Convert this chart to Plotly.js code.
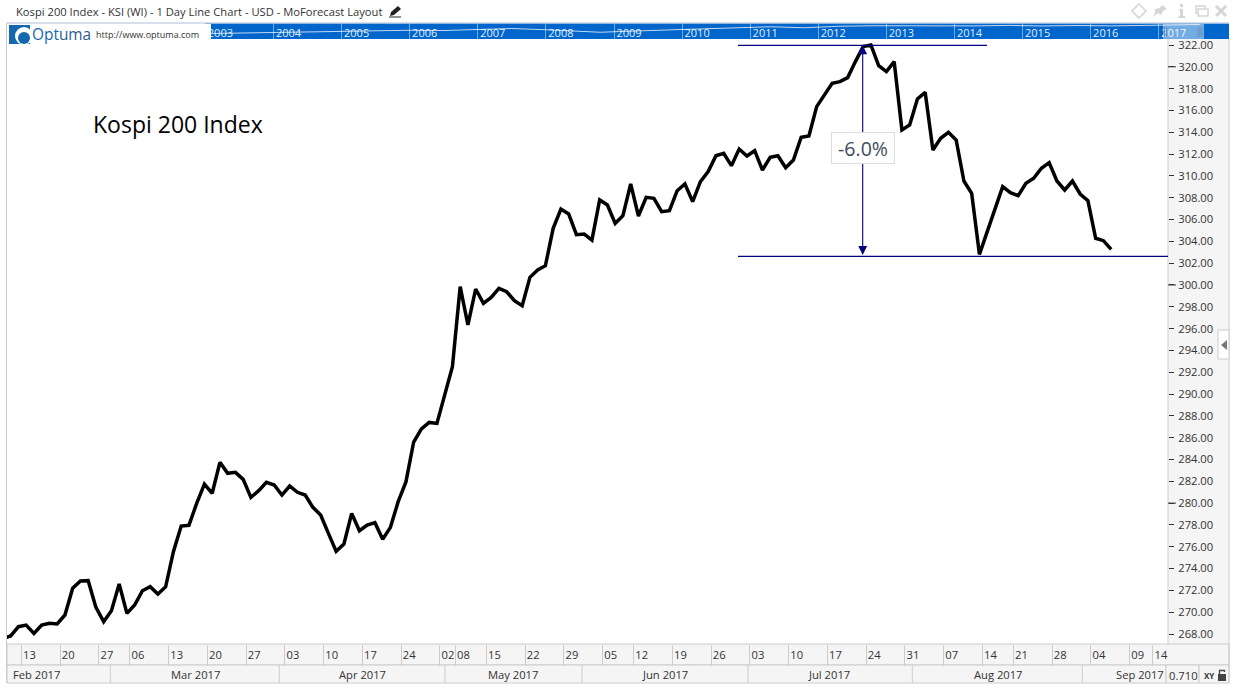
<!DOCTYPE html>
<html><head><meta charset="utf-8">
<script src="https://cdn.plot.ly/plotly-3.0.1.min.js"></script>
<style>html,body{margin:0;padding:0;background:#fff}#c{width:1236px;height:691px}</style>
</head><body><div id="c"></div>
<script>
// ---------- data ----------
const closeValues = [267.60,267.82,268.67,268.82,268.06,268.82,268.98,268.92,269.74,272.19,272.86,272.89,270.44,269.13,270.14,272.58,269.89,270.66,271.97,272.34,271.67,272.34,275.55,277.90,277.96,279.98,281.75,280.90,283.74,282.73,282.82,282.18,280.53,281.14,281.90,281.66,280.74,281.57,280.99,280.74,279.61,278.91,277.23,275.58,276.25,279.06,277.47,277.99,278.21,276.68,277.78,280.13,281.94,285.60,286.80,287.40,287.31,289.91,292.51,299.84,296.33,299.63,298.31,298.86,299.69,299.38,298.56,298.10,300.70,301.37,301.77,305.19,306.96,306.51,304.61,304.67,304.12,307.79,307.33,305.65,306.35,309.26,306.32,308.03,307.94,306.72,306.81,308.64,309.26,307.64,309.47,310.39,311.85,312.07,310.94,312.46,311.82,312.31,310.54,311.70,311.85,310.75,311.46,313.54,313.66,316.35,317.42,318.49,318.64,319.01,320.48,321.85,322.00,320.11,319.56,320.48,314.21,314.67,317.05,317.66,312.38,313.45,314.00,313.29,309.53,308.40,302.81,304.89,307.03,309.01,308.46,308.19,309.32,309.78,310.70,311.21,309.53,308.71,309.53,308.34,307.73,304.28,304.06,303.27];
const dayTickIndex = [2,7,12,16,21,26,31,36,41,46,51,56,58,62,67,72,77,81,86,91,96,101,106,111,116,121,126,130,135,140,145,148];
const dayTickLabels = ["13","20","27","06","13","20","27","03","10","17","24","02","08","15","22","29","05","12","19","26","03","10","17","24","31","07","14","21","28","04","09","14"];
const monthLabels = ["Feb 2017","Mar 2017","Apr 2017","May 2017","Jun 2017","Jul 2017","Aug 2017","Sep 2017"];
const priceTicks = [268,270,272,274,276,278,280,282,284,286,288,290,292,294,296,298,300,302,304,306,308,310,312,314,316,318,320,322];
const overviewYears = [2003.1,2003.5,2004,2004.3,2004.6,2005,2005.5,2006,2006.5,2007,2007.5,2008,2008.4,2008.8,2009.3,2009.8,2010.3,2010.8,2011.3,2011.8,2012.3,2012.8,2013.3,2013.8,2014.3,2014.8,2015.3,2015.8,2016.3,2016.8,2017.3,2017.6];
const overviewValues = [110,120,130,125,145,150,160,175,170,190,210,185,165,135,160,185,205,225,245,225,255,265,260,270,262,272,260,270,262,272,285,290];
const yearLabels = ["2003","2004","2005","2006","2007","2008","2009","2010","2011","2012","2013","2014","2015","2016","2017"];
const peakValue = 321.97, troughValue = 302.62;
const titleText = "Kospi 200 Index - KSI (WI) - 1 Day Line Chart - USD - MoForecast Layout";

// ---------- layout helpers ----------
const PX = X => (X - 7) / 1222, PY = Y => (644 - Y) / 621;
const IDX = X => (X - 2.92) / 7.75;
const xIndex = closeValues.map((_, i) => i);
const navy = "#000080", panel = "#f5f5f5", edge = "#cccccc";
const font = "'Open Sans', sans-serif";

function rect(x0, y0, x1, y1, fill, line, layer) {
  return {type:"rect", xref:"paper", yref:"paper", x0:PX(x0), x1:PX(x1), y0:PY(y0), y1:PY(y1),
          fillcolor:fill, line:{color:line||"rgba(0,0,0,0)", width:line?1:0}, layer:layer||"below"};
}
function seg(x0, y0, x1, y1, color, w, layer) {
  return {type:"line", xref:"paper", yref:"paper", x0:PX(x0), x1:PX(x1), y0:PY(y0), y1:PY(y1),
          line:{color:color, width:w||1}, layer:layer||"above"};
}
function poly(pts, fill, line, w) {
  const d = pts.map((p,i)=>(i?"L":"M")+PX(p[0])+","+PY(p[1])).join(" ")+" Z";
  return {type:"path", xref:"paper", yref:"paper", path:d, fillcolor:fill,
          line:{color:line||"rgba(0,0,0,0)", width:w||0}, layer:"above"};
}
function circ(cx, cy, r, fill, line, w) {
  return {type:"circle", xref:"paper", yref:"paper", x0:PX(cx-r), x1:PX(cx+r), y0:PY(cy+r), y1:PY(cy-r),
          fillcolor:fill, line:{color:line||"rgba(0,0,0,0)", width:w||0}, layer:"above"};
}
function txt(X, Y, text, size, color, anchor, extra) {
  return Object.assign({xref:"paper", yref:"paper", x:PX(X), y:PY(Y), text:text, showarrow:false,
    xanchor:anchor||"left", yanchor:"middle", font:{family:font, size:size, color:color}, borderpad:0}, extra||{});
}

// ---------- shapes ----------
const icon = "#d6d6d6";
const shapes = [
  rect(1168,39,1229,644,panel),
  rect(7,644,1229,665,panel,edge),
  rect(7,665,1166,683,panel,edge),
  rect(1166,665,1199,683,panel,edge),
  rect(1199,665,1229,683,panel,edge),
  rect(205,23,1229,39,"#0066cc"),
  seg(6.5,23,6.5,683,edge,1,"below"),
  seg(1168,39,1168,644,edge,1,"below"),
  seg(1229,39,1229,683,edge,1,"below"),
  seg(7,23,1229,23,"#c8d4e4",1.5,"above"),
  // overview handle
  rect(1163,24,1204,39,"rgba(255,255,255,0.45)",null,"above"),
  seg(1164.5,27,1164.5,37,"#6a8fbf"), seg(1166.5,27,1166.5,37,"#6a8fbf"),
  seg(1198,27,1198,37,"#6a8fbf"), seg(1200,27,1200,37,"#6a8fbf"), seg(1202,27,1202,37,"#6a8fbf"),
  // logo
  rect(7,24,211,40,"#ffffff",null,"above"),
  {type:"rect", xref:"paper", yref:"paper", x0:PX(9), x1:PX(30), y0:PY(44), y1:PY(25), fillcolor:"#1468b0", line:{width:0,color:"rgba(0,0,0,0)"}, layer:"above"},
  circ(24,36,9,"#ffffff"),
  circ(24,38,6,"#1468b0"),
  // price axis long ticks
  ...priceTicks.filter(v=>v%20===0).map(v=>({type:"line", xref:"paper", yref:"y", x0:PX(1168), x1:PX(1176), y0:v, y1:v, line:{color:"#333",width:1}, layer:"above"})),
  // month separators
  ...[110.3,279.3,445,582,748,912.3,1082.3].map(X=>seg(X,665,X,683,edge,1,"below")),
  // measure tool
  {type:"line", xref:"x", yref:"y", x0:IDX(738), x1:IDX(987), y0:peakValue, y1:peakValue, line:{color:navy,width:1.2}, layer:"above"},
  {type:"line", xref:"x", yref:"y", x0:IDX(738), x1:IDX(1168), y0:troughValue, y1:troughValue, line:{color:navy,width:1.2}, layer:"above"},
  // collapse tab
  {type:"rect", xref:"paper", yref:"paper", x0:PX(1218), x1:PX(1229), y0:PY(359), y1:PY(330), fillcolor:"#fff", line:{color:edge,width:1}, layer:"above"},
  poly([[1227,340],[1221,345],[1227,350]],"#777777"),
  // window icons
  poly([[1139,4],[1146,11],[1139,18],[1132,11]],"rgba(0,0,0,0)",icon,1.6),
  poly([[1155,13],[1153,17],[1158,13],[1161,15],[1163,11],[1167,9],[1162,5],[1160,8],[1155,9]],icon),
  poly([[1180,4],[1183,4],[1183,7],[1180,7]],icon),
  poly([[1179,9],[1183,9],[1183,16],[1185,16],[1185,18],[1178,18],[1179,16],[1180,16],[1180,11]],icon),
  {type:"rect", xref:"paper", yref:"paper", x0:PX(1196), x1:PX(1205), y0:PY(13), y1:PY(6), fillcolor:"rgba(0,0,0,0)", line:{color:icon,width:1.5}, layer:"above"},
  {type:"rect", xref:"paper", yref:"paper", x0:PX(1198), x1:PX(1208), y0:PY(16), y1:PY(9), fillcolor:"#fff", line:{color:icon,width:1.5}, layer:"above"},
  seg(1216,6,1226,16,icon,3), seg(1226,6,1216,16,icon,3),
  // pencil
  poly([[391,12],[398,6],[401,9],[394,15],[390,16]],"#222222"),
  seg(389,17,401,17,"#222222",1),
  // lock
  rect(1218,674,1226,681,"#444444",null,"above"),
  {type:"path", xref:"paper", yref:"paper", path:`M${PX(1219.5)},${PY(674)} L${PX(1219.5)},${PY(670.5)} L${PX(1224.5)},${PY(670.5)} L${PX(1224.5)},${PY(672)}`, line:{color:"#444444",width:1.3}, layer:"above"}
];

// ---------- annotations ----------
const monthCentersPx = [36,195,362,513,665,829,998];
const annotations = [
  txt(15,12,titleText,11.2,"#333333"),
  txt(31,35,'<span style="color:#1468b0">Opt</span><span style="color:#2a5c8f">uma</span>',15.4,"#1468b0"),
  txt(95,35,"http://www.optuma.com",9,"#333333"),
  txt(92,124,"Kospi 200 Index",23,"#000000"),
  ...monthLabels.slice(0,7).map((m,i)=>txt(monthCentersPx[i],674.5,m,11.2,"#333333","center")),
  txt(1165,674.5,monthLabels[7],11.2,"#333333","right"),
  txt(1168,675,"0.710",11.2,"#333333"),
  txt(1203,675,"<b>XY</b>",8,"#333333"),
  {xref:"x", yref:"y", axref:"x", ayref:"y", x:IDX(862.7), y:peakValue, ax:IDX(862.7), ay:troughValue,
   showarrow:true, arrowside:"end+start", arrowhead:2, arrowsize:1.6, arrowwidth:1.1, arrowcolor:navy, text:""},
  {xref:"x", yref:"y", x:IDX(863), y:312.6, text:"-6.0%", showarrow:false, xanchor:"center", yanchor:"middle",
   width:62, height:30, bgcolor:"#ffffff", bordercolor:"#dddddd", borderwidth:1, borderpad:0,
   font:{family:font, size:19.5, color:"#3c4c5c"}}
];

// ---------- traces ----------
const traces = [
  {type:"scatter", mode:"lines", x:xIndex, y:closeValues, xaxis:"x", yaxis:"y",
   line:{color:"#000000", width:3.5, shape:"linear"}, hoverinfo:"skip"},
  {type:"scatter", mode:"lines", x:overviewYears, y:overviewValues, xaxis:"x2", yaxis:"y2",
   line:{color:"rgba(255,255,255,0.75)", width:1}, hoverinfo:"skip"}
];

const layout = {
  width:1236, height:691, showlegend:false,
  margin:{l:7, r:7, t:23, b:47, pad:0},
  paper_bgcolor:"rgba(0,0,0,0)", plot_bgcolor:"rgba(0,0,0,0)",
  xaxis:{domain:[0,PX(1168)], range:[IDX(7),IDX(1168)], showgrid:false, zeroline:false, showline:false,
    tickmode:"array", tickvals:dayTickIndex.map(i=>i+0.39), ticktext:dayTickLabels,
    ticks:"outside", ticklen:21, tickcolor:edge, tickwidth:1, ticklabelstandoff:-20, ticklabelshift:8,
    tickfont:{family:font,size:11.2,color:"#333333"}, tickangle:0, fixedrange:true, anchor:"y"},
  yaxis:{domain:[0,PY(39)], range:[268-(644-634)/10.907, 322+(45-39)/10.907], side:"right", anchor:"x",
    showgrid:false, zeroline:false, showline:false, tickmode:"array", tickvals:priceTicks,
    ticks:"outside", ticklen:5, tickcolor:"#333333", tickwidth:1, tickformat:".2f", ticklabelstandoff:2,
    tickfont:{family:font,size:11.2,color:"#333333"}, fixedrange:true},
  xaxis2:{domain:[PX(205.4),1], range:[2003,2003+(1229-205.4)/68.1], anchor:"y2", showgrid:false, zeroline:false,
    showline:false, tickmode:"array", tickvals:yearLabels.map(Number), ticktext:yearLabels,
    ticks:"inside", ticklen:16, tickcolor:"rgba(255,255,255,0.45)", tickwidth:1,
    ticklabelposition:"inside", ticklabelshift:15, ticklabelstandoff:-17,
    tickfont:{family:font,size:11,color:"rgba(255,255,255,0.9)"}, fixedrange:true},
  yaxis2:{domain:[PY(39),PY(23)], range:[0,320], anchor:"x2", showgrid:false, zeroline:false, showline:false,
    showticklabels:false, ticks:"", fixedrange:true},
  shapes:shapes, annotations:annotations
};
Plotly.newPlot("c", traces, layout, {staticPlot:true, displayModeBar:false});
</script></body></html>
